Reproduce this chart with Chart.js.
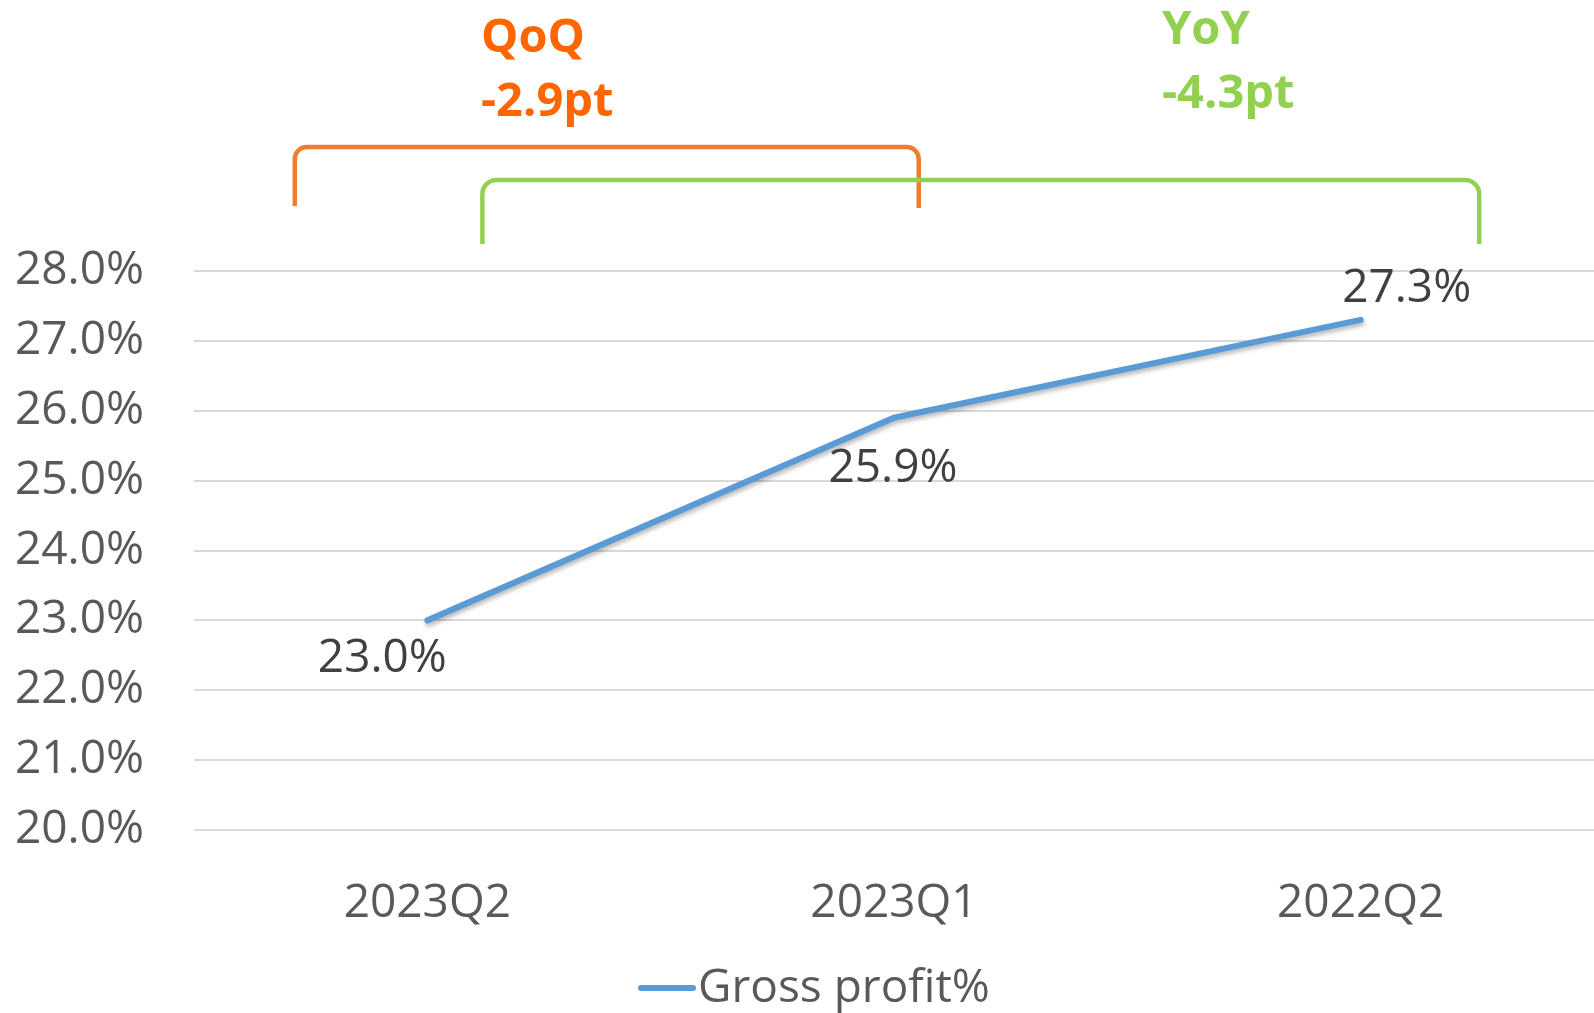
<!DOCTYPE html>
<html>
<head>
<meta charset="utf-8">
<script src="https://cdn.jsdelivr.net/npm/chart.js@4"></script>
<style>
  html, body { margin: 0; padding: 0; background: #fff; }
  #wrap { width: 1594px; height: 1013px; }
</style>
</head>
<body>
<div id="wrap"><canvas id="gpChart" width="1594" height="1013"></canvas></div>
<script>
// data
const quarters = ['2023Q2', '2023Q1', '2022Q2'];
const grossProfit = [23.0, 25.9, 27.3];
const seriesName = 'Gross profit%';
const yMin = 20, yMax = 28, yStep = 1;
const qoqText = ['QoQ', '-2.9pt'];
const yoyText = ['YoY', '-4.3pt'];

const FONT = '"Open Sans", "Liberation Sans", sans-serif';
const lineBlue = '#5B9BD5';
const orange = '#ED7D31';
const orangeText = '#FF6600';
const green = '#92D050';

// where each value label sits relative to its point (px)
const labelShift = [[-45, 39], [-1, 51], [46, -31]];

function roundedBracket(ctx, x1, x2, top, b1, b2, r) {
  ctx.beginPath();
  ctx.moveTo(x1, b1);
  ctx.lineTo(x1, top + r);
  ctx.arcTo(x1, top, x1 + r, top, r);
  ctx.lineTo(x2 - r, top);
  ctx.arcTo(x2, top, x2, top + r, r);
  ctx.lineTo(x2, b2);
  ctx.stroke();
}

const extras = {
  id: 'extras',
  beforeDatasetDraw(chart) {
    const c = chart.ctx;
    c.save();
    c.shadowColor = 'rgba(0,0,0,0.28)';
    c.shadowBlur = 4;
    c.shadowOffsetX = 1;
    c.shadowOffsetY = 3;
  },
  afterDatasetDraw(chart) {
    chart.ctx.restore();
  },
  afterDraw(chart) {
    const c = chart.ctx;
    const xs = chart.scales.x;
    const meta = chart.getDatasetMeta(0);

    // value labels
    c.save();
    c.font = '46px ' + FONT;
    c.fillStyle = '#404040';
    c.textAlign = 'center';
    c.textBaseline = 'middle';
    meta.data.forEach((pt, i) => {
      c.fillText(grossProfit[i].toFixed(1) + '%', pt.x + labelShift[i][0], pt.y + labelShift[i][1]);
    });
    c.restore();

    // brackets
    c.save();
    c.lineWidth = 4.5;
    c.strokeStyle = orange;
    roundedBracket(c, xs.getPixelForValue(-0.284), xs.getPixelForValue(1.053), 147, 206, 208, 12);
    c.strokeStyle = green;
    roundedBracket(c, xs.getPixelForValue(0.118), xs.getPixelForValue(2.254), 180, 244, 244, 14);
    c.restore();

    // QoQ / YoY text
    c.save();
    c.font = 'bold 47px ' + FONT;
    c.textAlign = 'left';
    c.textBaseline = 'middle';
    c.fillStyle = orangeText;
    c.fillText(qoqText[0], 481, 39);
    c.fillText(qoqText[1], 481, 103);
    c.fillStyle = green;
    c.fillText(yoyText[0], 1162, 31);
    c.fillText(yoyText[1], 1162, 95);
    c.restore();

    // legend
    c.save();
    c.lineCap = 'round';
    c.lineWidth = 6;
    c.strokeStyle = lineBlue;
    c.beginPath();
    c.moveTo(641, 988);
    c.lineTo(693, 988);
    c.stroke();
    c.font = '46px ' + FONT;
    c.fillStyle = '#595959';
    c.textAlign = 'left';
    c.textBaseline = 'middle';
    c.fillText(seriesName, 698, 989);
    c.restore();
  }
};

new Chart(document.getElementById('gpChart'), {
  type: 'line',
  data: {
    labels: quarters,
    datasets: [{
      label: seriesName,
      data: grossProfit,
      borderColor: lineBlue,
      backgroundColor: lineBlue,
      borderWidth: 6,
      borderCapStyle: 'round',
      pointRadius: 0,
      pointHoverRadius: 0,
      tension: 0
    }]
  },
  options: {
    responsive: false,
    animation: false,
    layout: { padding: { top: 271, right: 0, bottom: 0, left: 0 } },
    plugins: {
      legend: { display: false },
      tooltip: { enabled: false }
    },
    scales: {
      x: {
        offset: true,
        grid: { display: false },
        border: { display: false },
        afterFit: s => { s.height = 183; },
        ticks: {
          color: '#595959',
          font: { family: FONT, size: 46 },
          padding: 38,
          maxRotation: 0
        }
      },
      y: {
        min: yMin,
        max: yMax,
        afterFit: s => { s.width = 194; },
        grid: { color: '#D9D9D9', lineWidth: 2, drawTicks: false },
        border: { display: false },
        ticks: {
          stepSize: yStep,
          color: '#595959',
          font: { family: FONT, size: 46 },
          padding: 50,
          callback: v => v.toFixed(1) + '%'
        }
      }
    }
  },
  plugins: [extras]
});
</script>
</body>
</html>
